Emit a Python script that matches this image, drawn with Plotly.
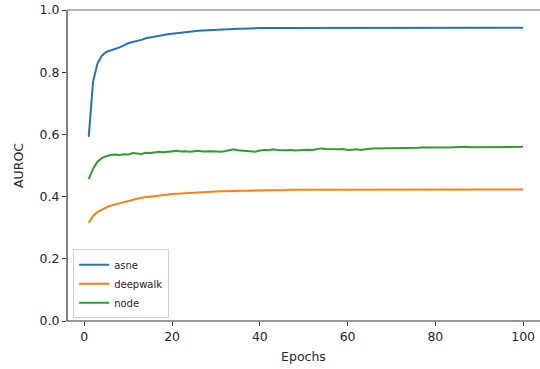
import plotly.graph_objects as go

epochs = list(range(1, 101))

asne = [
    0.592, 0.770, 0.828, 0.853, 0.865, 0.870, 0.873, 0.880, 0.886, 0.893,
    0.897, 0.900, 0.904, 0.909, 0.912, 0.914, 0.917, 0.919, 0.922, 0.924,
    0.926, 0.928, 0.930, 0.931, 0.932, 0.933, 0.934, 0.935, 0.936, 0.937,
    0.937, 0.938, 0.939, 0.939, 0.940, 0.940, 0.941, 0.941, 0.941, 0.942,
    0.942, 0.942, 0.942, 0.943, 0.943, 0.943, 0.943, 0.943, 0.943, 0.944,
    0.944, 0.944, 0.944, 0.944, 0.944, 0.944, 0.944, 0.944, 0.944, 0.944,
    0.944, 0.944, 0.944, 0.944, 0.944, 0.944, 0.944, 0.944, 0.944, 0.944,
    0.944, 0.944, 0.944, 0.944, 0.944, 0.944, 0.944, 0.944, 0.944, 0.944,
    0.944, 0.944, 0.944, 0.944, 0.944, 0.944, 0.944, 0.944, 0.944, 0.944,
    0.944, 0.944, 0.944, 0.944, 0.944, 0.943, 0.943, 0.943, 0.943, 0.943,
]

deepwalk = [
    0.316, 0.338, 0.350, 0.358, 0.365, 0.371, 0.375, 0.379, 0.383, 0.387,
    0.390, 0.393, 0.396, 0.398, 0.400, 0.402, 0.404, 0.405, 0.407, 0.408,
    0.409, 0.410, 0.411, 0.412, 0.413, 0.414, 0.415, 0.415, 0.416, 0.416,
    0.417, 0.417, 0.418, 0.418, 0.418, 0.419, 0.419, 0.419, 0.420, 0.420,
    0.420, 0.420, 0.421, 0.421, 0.421, 0.421, 0.422, 0.422, 0.422, 0.422,
    0.422, 0.423, 0.423, 0.423, 0.423, 0.423, 0.423, 0.424, 0.424, 0.424,
    0.424, 0.424, 0.424, 0.424, 0.424, 0.424, 0.424, 0.424, 0.424, 0.424,
    0.424, 0.424, 0.424, 0.424, 0.424, 0.424, 0.424, 0.424, 0.424, 0.424,
    0.424, 0.424, 0.424, 0.424, 0.424, 0.424, 0.424, 0.424, 0.424, 0.423,
    0.423, 0.423, 0.423, 0.423, 0.423, 0.423, 0.423, 0.423, 0.423, 0.423,
]

node = [
    0.456, 0.490, 0.512, 0.524, 0.530, 0.534, 0.535, 0.534, 0.536, 0.535,
    0.540, 0.538, 0.537, 0.541, 0.540, 0.542, 0.544, 0.543, 0.545, 0.546,
    0.547, 0.545, 0.546, 0.544, 0.546, 0.547, 0.545, 0.546, 0.546, 0.545,
    0.544, 0.546, 0.550, 0.552, 0.549, 0.548, 0.546, 0.545, 0.544, 0.548,
    0.550, 0.549, 0.552, 0.550, 0.549, 0.549, 0.550, 0.548, 0.549, 0.551,
    0.551, 0.550, 0.553, 0.555, 0.553, 0.552, 0.551, 0.552, 0.553, 0.550,
    0.551, 0.552, 0.550, 0.553, 0.554, 0.555, 0.555, 0.555, 0.556, 0.555,
    0.556, 0.556, 0.557, 0.556, 0.557, 0.557, 0.558, 0.557, 0.558, 0.558,
    0.559, 0.558, 0.558, 0.559, 0.558, 0.559, 0.560, 0.559, 0.559, 0.560,
    0.560, 0.560, 0.561, 0.560, 0.561, 0.561, 0.561, 0.560, 0.561, 0.560,
]

series = [
    ("asne", asne, "#1f77b4"),
    ("deepwalk", deepwalk, "#ff7f0e"),
    ("node", node, "#2ca02c"),
]

x_ticks = [0, 20, 40, 60, 80, 100]
y_ticks = [0.0, 0.2, 0.4, 0.6, 0.8, 1.0]

font_family = "DejaVu Sans"
text_color = "#262626"
spine_color = "#333333"

fig = go.Figure()
for name, values, color in series:
    fig.add_trace(go.Scatter(
        x=epochs, y=values, name=name, mode="lines",
        line=dict(color=color, width=2),
    ))

# left, bottom and top spines; the right side stays open
for x0, y0, x1, y1, col in [
    (0, 0, 0, 1, spine_color),
    (0, 0, 1.01, 0, spine_color),
    (0, 1, 1.01, 1, "#6e6e6e"),
]:
    fig.add_shape(
        type="line", xref="paper", yref="paper",
        x0=x0, y0=y0, x1=x1, y1=y1,
        line=dict(color=col, width=1.2),
    )

fig.update_layout(
    width=540, height=369,
    margin=dict(l=67, r=0, t=10, b=48, autoexpand=False),
    paper_bgcolor="white", plot_bgcolor="white",
    font=dict(family=font_family, size=12.5, color=text_color),
    showlegend=True,
    hovermode=False,
    legend=dict(
        x=0.013, y=0.009, xanchor="left", yanchor="bottom",
        bgcolor="rgba(255,255,255,0.8)", bordercolor="#d0d0d0", borderwidth=1,
        font=dict(family=font_family, size=10, color=text_color),
        tracegroupgap=0, itemwidth=30,
    ),
)

fig.update_xaxes(
    range=[-3.95, 103.85],
    tickvals=x_ticks, ticktext=[str(v) for v in x_ticks],
    ticks="outside", ticklen=4, tickwidth=1, tickcolor=spine_color,
    showline=False, showgrid=False, zeroline=False,
    title=dict(text="Epochs", standoff=9, font=dict(size=12.5)),
)

fig.update_yaxes(
    range=[0, 1.0],
    tickvals=y_ticks, ticktext=[f"{v:.1f}" for v in y_ticks],
    ticks="outside", ticklen=4, tickwidth=1, tickcolor=spine_color,
    showline=False, showgrid=False, zeroline=False,
    title=dict(text="AUROC", standoff=13, font=dict(size=12.5)),
)

fig.write_html("out.html", config={"displayModeBar": False})
